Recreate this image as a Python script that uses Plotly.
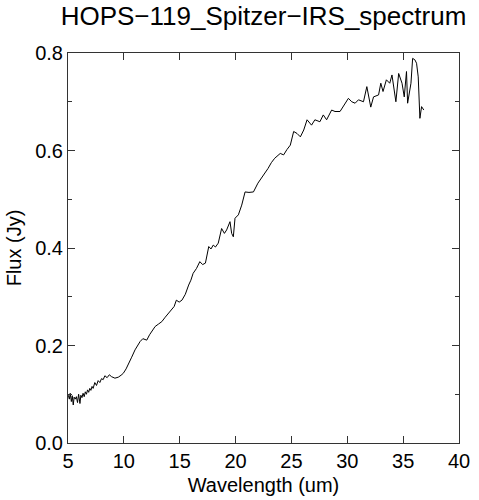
import plotly.graph_objects as go

# ── Spectrum samples ────────────────────────────────────────────────────
wavelength = [
    5.03, 5.12, 5.2, 5.3, 5.38, 5.47, 5.55, 5.65, 5.75, 5.85, 5.95, 6.07,
    6.15, 6.25, 6.35, 6.45, 6.55, 6.65, 6.75, 6.85, 6.95, 7.05, 7.15, 7.25,
    7.4, 7.55, 7.7, 7.85, 8.0, 8.15, 8.3, 8.5, 8.7, 8.9, 9.2, 9.5, 9.75,
    9.95, 10.2, 10.4, 10.7, 11.0, 11.25, 11.45, 11.7, 12.05, 12.3, 12.55,
    12.8, 13.1, 13.4, 13.7, 14.0, 14.3, 14.5, 14.7, 14.95, 15.2, 15.5,
    15.8, 16.0, 16.2, 16.5, 16.8, 17.05, 17.3, 17.6, 17.8, 18.0, 18.2,
    18.45, 18.75, 19.0, 19.2, 19.35, 19.5, 19.65, 19.8, 19.95, 20.25,
    20.55, 20.85, 21.2, 21.6, 22.0, 22.3, 22.6, 22.9, 23.2, 23.5, 24.0,
    24.3, 24.6, 24.9, 25.2, 25.5, 25.8, 26.1, 26.4, 26.8, 27.1, 27.55,
    27.85, 28.15, 28.6, 28.9, 29.35, 29.8, 30.1, 30.4, 30.7, 31.0, 31.45,
    31.75, 31.9, 32.1, 32.35, 32.8, 33.0, 33.2, 33.5, 33.8, 34.0, 34.35,
    34.6, 34.9, 35.1, 35.3, 35.4, 35.7, 35.85, 36.05, 36.2, 36.35, 36.5,
    36.65, 36.85,
]
flux = [
    0.098, 0.090, 0.102, 0.085, 0.097, 0.078, 0.094, 0.090, 0.095, 0.083,
    0.100, 0.081, 0.098, 0.093, 0.102, 0.095, 0.105, 0.100, 0.109, 0.104,
    0.112, 0.108, 0.116, 0.112, 0.124, 0.118, 0.128, 0.124, 0.132, 0.130,
    0.138, 0.134, 0.140, 0.136, 0.133, 0.135, 0.139, 0.143, 0.152, 0.163,
    0.176, 0.191, 0.200, 0.208, 0.214, 0.211, 0.222, 0.230, 0.239, 0.244,
    0.249, 0.258, 0.266, 0.273, 0.280, 0.293, 0.289, 0.293, 0.305, 0.324,
    0.334, 0.348, 0.358, 0.372, 0.366, 0.369, 0.403, 0.398, 0.406, 0.402,
    0.410, 0.440, 0.430, 0.437, 0.445, 0.454, 0.430, 0.423, 0.461, 0.468,
    0.488, 0.515, 0.514, 0.515, 0.533, 0.543, 0.552, 0.563, 0.575, 0.584,
    0.594, 0.591, 0.602, 0.611, 0.639, 0.635, 0.628, 0.642, 0.663, 0.652,
    0.663, 0.659, 0.673, 0.663, 0.683, 0.680, 0.680, 0.697, 0.707, 0.700,
    0.697, 0.704, 0.700, 0.731, 0.710, 0.689, 0.710, 0.714, 0.738, 0.721,
    0.745, 0.738, 0.755, 0.700, 0.758, 0.738, 0.710, 0.762, 0.697, 0.738,
    0.789, 0.786, 0.779, 0.751, 0.666, 0.690, 0.683,
]

x_ticks = [5, 10, 15, 20, 25, 30, 35, 40]
y_ticks = [0.0, 0.2, 0.4, 0.6, 0.8]

FONT = 'Liberation Sans, Arial, Helvetica, sans-serif'
AXIS = '#333333'

fig = go.Figure()
fig.add_trace(go.Scatter(
    x=wavelength, y=flux,
    mode='lines',
    line=dict(color='black', width=1),
    showlegend=False,
))

axis_common = dict(
    showline=True, linecolor=AXIS, linewidth=1,
    mirror='ticks', ticks='inside', ticklen=7, tickcolor=AXIS,
    showgrid=False, zeroline=False, automargin=False,
    tickfont=dict(size=20, color='black'),
    title_font=dict(size=20, color='black'),
)

fig.update_layout(
    width=479, height=500,
    margin=dict(l=68, r=20, t=53, b=57),
    paper_bgcolor='white', plot_bgcolor='white',
    font=dict(family=FONT, color='black'),
    title=dict(text='HOPS−119_Spitzer−IRS_spectrum', x=0.5, xref='paper',
               y=0.968, yanchor='middle', font=dict(size=26, color='black')),
    xaxis=dict(range=[5, 40], tickvals=x_ticks,
               title=dict(text='Wavelength (um)', standoff=6), **axis_common),
    yaxis=dict(range=[0, 0.8], tickvals=y_ticks, tickformat='.1f',
               minor=dict(dtick=0.1, ticklen=4, ticks='inside', tickcolor=AXIS),
               title=dict(text='Flux (Jy)', standoff=8), **axis_common),
)

# drop the browser's default page margin so the figure sits at (0, 0)
fig.write_html("out.html", config={'displayModeBar': False},
               post_script="document.body.style.margin='0';")
